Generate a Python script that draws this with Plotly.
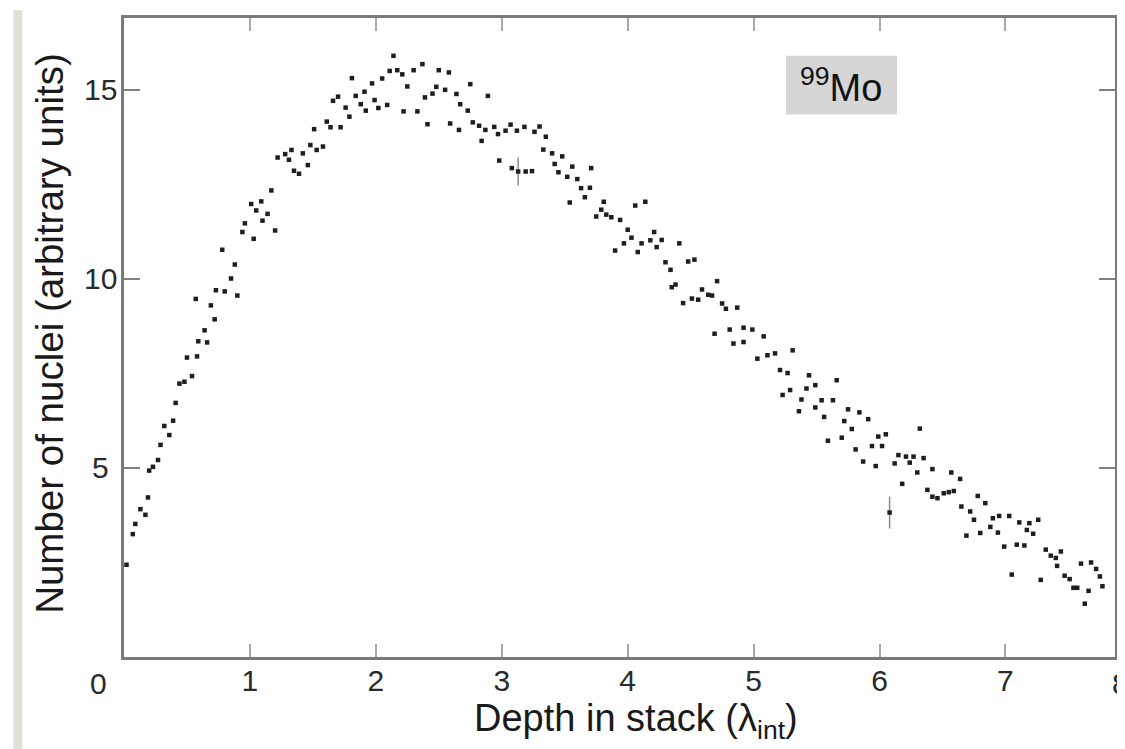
import plotly.graph_objects as go

# Depth in stack (lambda_int) and number of nuclei (arbitrary units)
depth = [0.02, 0.07, 0.09, 0.13, 0.17, 0.19, 0.20, 0.23, 0.27, 0.29, 0.32, 0.36, 0.39, 0.41, 0.44,
         0.48, 0.50, 0.54, 0.57, 0.58, 0.59, 0.64, 0.66, 0.69, 0.72, 0.73, 0.78, 0.80, 0.85, 0.88,
         0.90, 0.94, 0.96, 1.01, 1.03, 1.05, 1.09, 1.10, 1.14, 1.17, 1.20, 1.22, 1.28, 1.31, 1.33,
         1.35, 1.39, 1.42, 1.46, 1.48, 1.51, 1.53, 1.58, 1.61, 1.64, 1.66, 1.70, 1.72, 1.76, 1.79,
         1.81, 1.84, 1.88, 1.91, 1.92, 1.97, 1.99, 2.02, 2.05, 2.09, 2.11, 2.14, 2.17, 2.21, 2.22,
         2.25, 2.30, 2.33, 2.37, 2.39, 2.41, 2.45, 2.48, 2.50, 2.55, 2.58, 2.59, 2.64, 2.66, 2.67,
         2.73, 2.75, 2.77, 2.82, 2.84, 2.87, 2.89, 2.94, 2.97, 2.98, 3.03, 3.07, 3.08, 3.12, 3.18,
         3.19, 3.24, 3.26, 3.30, 3.33, 3.35, 3.40, 3.42, 3.45, 3.48, 3.52, 3.54, 3.56, 3.60, 3.63,
         3.66, 3.70, 3.71, 3.75, 3.79, 3.81, 3.83, 3.87, 3.90, 3.94, 3.97, 4.00, 4.03, 4.06, 4.08,
         4.11, 4.14, 4.18, 4.21, 4.23, 4.27, 4.30, 4.34, 4.35, 4.38, 4.41, 4.44, 4.48, 4.51, 4.53,
         4.56, 4.59, 4.64, 4.67, 4.69, 4.71, 4.75, 4.78, 4.81, 4.84, 4.87, 4.92, 4.92, 4.99, 5.03,
         5.08, 5.11, 5.17, 5.21, 5.23, 5.27, 5.29, 5.31, 5.36, 5.38, 5.42, 5.44, 5.49, 5.49, 5.54,
         5.56, 5.59, 5.63, 5.66, 5.70, 5.72, 5.75, 5.78, 5.81, 5.84, 5.87, 5.91, 5.94, 5.97, 5.99,
         6.02, 6.05, 6.12, 6.15, 6.18, 6.21, 6.24, 6.27, 6.30, 6.32, 6.35, 6.38, 6.42, 6.42, 6.46,
         6.51, 6.55, 6.57, 6.59, 6.64, 6.65, 6.69, 6.72, 6.75, 6.78, 6.80, 6.84, 6.88, 6.90, 6.94,
         6.95, 6.99, 7.03, 7.05, 7.09, 7.11, 7.15, 7.17, 7.19, 7.22, 7.26, 7.28, 7.32, 7.36, 7.40,
         7.41, 7.44, 7.47, 7.51, 7.54, 7.57, 7.60, 7.63, 7.66, 7.68, 7.72, 7.75, 7.77]
nuclei = [2.44, 3.25, 3.52, 3.91, 3.76, 4.22, 4.93, 5.03, 5.21, 5.61, 6.11, 5.87, 6.25, 6.72, 7.23,
          7.28, 7.92, 7.43, 9.47, 7.95, 8.35, 8.64, 8.32, 9.30, 8.93, 9.70, 10.77, 9.67, 10.01, 10.38,
          9.56, 11.24, 11.47, 11.98, 11.06, 11.81, 12.05, 11.54, 11.72, 12.34, 11.28, 13.21, 13.30, 13.15, 13.41,
          12.86, 12.78, 13.32, 13.01, 13.54, 13.96, 13.41, 13.50, 14.16, 14.01, 14.71, 14.82, 14.01, 14.53, 14.29,
          15.31, 14.84, 14.62, 14.95, 14.45, 15.17, 14.73, 14.52, 15.30, 14.60, 15.50, 15.90, 15.52, 15.41, 14.43,
          15.09, 15.52, 14.43, 15.68, 14.80, 14.09, 14.90, 15.08, 15.52, 15.00, 15.46, 14.11, 14.89, 13.94, 14.62,
          14.45, 15.15, 14.14, 14.05, 13.65, 13.94, 14.84, 14.02, 13.83, 13.13, 13.92, 14.08, 12.93, 13.92, 14.02,
          12.84, 12.85, 13.89, 14.03, 13.42, 13.76, 13.32, 13.04, 12.82, 13.24, 12.70, 12.02, 12.97, 12.64, 12.40,
          12.16, 12.41, 12.93, 11.65, 11.83, 12.04, 11.70, 11.63, 10.75, 11.56, 10.94, 11.30, 11.09, 11.94, 10.71,
          10.94, 12.04, 11.02, 11.24, 10.84, 11.03, 10.44, 10.24, 9.78, 9.85, 10.94, 9.36, 10.46, 9.48, 10.51,
          9.45, 9.72, 9.58, 9.56, 8.55, 9.94, 9.35, 9.21, 8.66, 8.29, 9.24, 8.71, 8.33, 8.66, 7.89,
          8.48, 7.98, 8.03, 7.59, 6.93, 7.51, 7.06, 8.11, 6.50, 6.81, 7.10, 7.45, 7.19, 6.60, 6.79,
          6.35, 5.72, 6.79, 7.32, 5.80, 6.24, 6.55, 6.03, 5.49, 6.47, 5.17, 6.29, 5.58, 5.05, 5.83,
          5.58, 5.89, 5.12, 5.34, 4.58, 5.30, 5.14, 5.30, 4.88, 6.04, 5.26, 4.42, 4.97, 4.24, 4.20,
          4.33, 4.36, 4.88, 4.39, 4.71, 3.98, 3.21, 3.85, 3.63, 4.26, 3.28, 4.07, 3.44, 3.67, 3.29,
          3.73, 2.92, 3.73, 2.18, 2.97, 3.56, 2.95, 3.36, 3.54, 3.26, 3.63, 2.04, 2.84, 2.68, 2.62,
          2.41, 2.79, 2.15, 2.06, 1.83, 1.83, 2.47, 1.41, 1.75, 2.50, 2.33, 2.13, 1.87]

# two points drawn with vertical error bars
err_depth = [3.13, 6.08]
err_nuclei = [12.84, 3.82]
err_size = [0.37, 0.42]

x_ticks = [1, 2, 3, 4, 5, 6, 7]
y_ticks = [5, 10, 15]
x_edge_labels = ["0", "8"]

FONT = "Liberation Sans, Arial, sans-serif"
TICK_COLOR = "#2a2a2a"

fig = go.Figure()
fig.add_trace(go.Scatter(
    x=err_depth, y=err_nuclei, mode="markers",
    marker=dict(symbol="square", size=4.5, color="#1e1e1e"),
    error_y=dict(type="data", array=err_size, visible=True, color="#8a8a8a",
                 thickness=1.5, width=0),
    showlegend=False, hoverinfo="skip"))
fig.add_trace(go.Scatter(
    x=depth, y=nuclei, mode="markers",
    marker=dict(symbol="square", size=4.5, color="#1e1e1e"),
    showlegend=False))

axis_common = dict(showgrid=False, zeroline=False, showline=True, linecolor="#7a7a7a",
                   linewidth=3, mirror="ticks", ticks="inside", tickwidth=2,
                   tickfont=dict(family=FONT, size=30, color=TICK_COLOR))

fig.update_xaxes(range=[0, 7.87], tickvals=x_ticks, ticktext=[str(v) for v in x_ticks],
                 ticklen=13, tickcolor="#a8a8a8", ticklabelstandoff=-5, **axis_common)
fig.update_yaxes(range=[0, 16.9], tickvals=y_ticks, showticklabels=False,
                 ticklen=16, tickcolor="#808080", **axis_common)

ann = []
# y tick labels (centred, as in the original)
for v in y_ticks:
    ann.append(dict(text=str(v), xref="paper", yref="y", x=-0.0241, y=v,
                    xanchor="center", yanchor="middle", showarrow=False,
                    font=dict(family=FONT, size=30, color=TICK_COLOR)))
# tick labels at both ends of the depth axis
ann.append(dict(text=x_edge_labels[0], xref="paper", yref="paper", x=-0.026, y=-0.012,
                xanchor="center", yanchor="top", showarrow=False,
                font=dict(family=FONT, size=30, color=TICK_COLOR)))
ann.append(dict(text=x_edge_labels[1], xref="paper", yref="paper", x=1.006, y=-0.012,
                xanchor="center", yanchor="top", showarrow=False,
                font=dict(family=FONT, size=30, color=TICK_COLOR)))
# axis titles
ann.append(dict(text="Depth in stack (λ<sub>int</sub>)", xref="paper", yref="paper",
                x=0.517, y=-0.06, xanchor="center", yanchor="top", showarrow=False,
                font=dict(family=FONT, size=38, color="#1a1a1a")))
ann.append(dict(text="Number of nuclei (arbitrary units)", xref="paper", yref="paper",
                x=-0.0755, y=0.506, xanchor="center", yanchor="middle", textangle=-90,
                showarrow=False, font=dict(family=FONT, size=38.5, color="#1a1a1a")))
# isotope label
ann.append(dict(text="<sup>99</sup>Mo", xref="paper", yref="paper", x=0.724, y=0.895,
                xanchor="center", yanchor="middle", showarrow=False,
                font=dict(family=FONT, size=38, color="#111111")))

shapes = [
    dict(type="rect", xref="paper", yref="paper", x0=0.668, x1=0.780, y0=0.849, y1=0.941,
         fillcolor="#d6d6d6", line=dict(width=0), layer="below"),
    dict(type="rect", xref="paper", yref="paper", x0=-0.1117, x1=-0.1026, y0=-0.16, y1=1.0125,
         fillcolor="#e3e0d8", line=dict(width=0), layer="below"),
]

# the page adds an 8 px body margin, so the figure is sized to fill the rest of the window
fig.update_layout(width=1117, height=741, margin=dict(l=116, r=7, t=8, b=92),
                  paper_bgcolor="white", plot_bgcolor="white",
                  annotations=ann, shapes=shapes)

fig.write_html("out.html")
